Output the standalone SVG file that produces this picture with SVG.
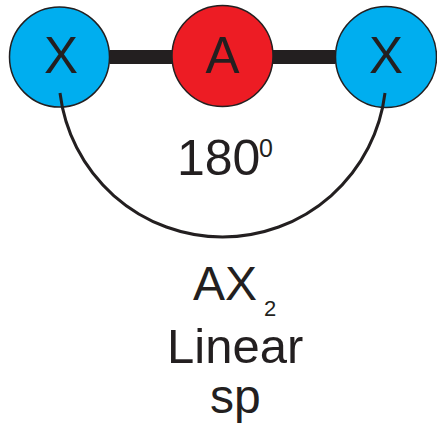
<svg xmlns="http://www.w3.org/2000/svg" width="437" height="436" viewBox="0 0 437 436">
<style>
.atom{stroke:#231F20;stroke-width:1.5}
.x{fill:#00AEEF}
.a{fill:#ED1C24}
text{font-family:"Liberation Sans",Arial,sans-serif;fill:#231F20}
.lbl{font-size:51px;text-anchor:middle}
.big{font-size:48px}
.sup{font-size:25px}
</style>
<g id="X1"><circle class="atom x" cx="59.5" cy="57" r="50"/><text class="lbl" x="61" y="73">X</text></g>
<g id="A"><circle class="atom a" cx="222.5" cy="56" r="50.5"/><text class="lbl" x="222.5" y="73">A</text></g>
<g id="X2"><circle class="atom x" cx="386" cy="57" r="50.5"/><text class="lbl" x="386" y="73">X</text></g>
<g id="connectors">
<line x1="109.5" y1="57" x2="172" y2="57" stroke="#231F20" stroke-width="14"/>
<line x1="273" y1="57" x2="335.5" y2="57" stroke="#231F20" stroke-width="14"/>
<path d="M60,93 A163.7,163.7 0 0 0 385,93" fill="none" stroke="#231F20" stroke-width="3"/>
</g>
<g id="angle"><text class="big" x="177" y="175" style="font-size:50px">180</text><text class="sup" x="259" y="157">0</text></g>
<g id="labels">
<text class="big" x="193" y="300">AX</text><text class="sup" x="264" y="316" style="font-size:22px">2</text>
<text class="big" x="167" y="363" style="font-size:49px">Linear</text>
<text class="big" x="210" y="413">sp</text>
</g>
</svg>
